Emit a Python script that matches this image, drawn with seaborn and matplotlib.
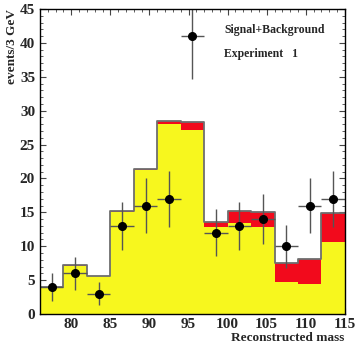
"""Signal+Background reconstructed mass histogram."""

import matplotlib
matplotlib.use("Agg")
import matplotlib.pyplot as plt
import numpy as np
import pandas as pd
import seaborn as sns

# bin edges (3 GeV bins) and per-bin contents
bin_edges = [76, 79, 82, 85, 88, 91, 94, 97, 100, 103, 106, 109, 112, 115]
background = [4.0, 7.1, 5.6, 15.1, 21.2, 28.0, 27.1, 12.8, 13.5, 12.8, 4.7, 4.4, 10.7]
signal = [0.0, 0.1, 0.0, 0.1, 0.2, 0.5, 1.2, 0.8, 1.7, 2.2, 2.8, 3.7, 4.2]
data_counts = [4, 6, 3, 13, 16, 17, 41, 12, 13, 14, 10, 16, 17]
data_err = [2.0, 2.4, 1.7, 3.6, 4.0, 4.1, 6.4, 3.5, 3.6, 3.7, 3.2, 4.0, 4.1]

sns.set_theme(style="ticks")
plt.rcParams["font.family"] = ["Liberation Serif", "DejaVu Serif"]
plt.rcParams["font.weight"] = "bold"

centers = [(a + b) / 2 for a, b in zip(bin_edges[:-1], bin_edges[1:])]
hist_df = pd.DataFrame({
    "mass": centers * 2,
    "events": background + signal,
    "component": ["background"] * len(centers) + ["signal"] * len(centers),
})
total_df = pd.DataFrame({
    "mass": centers,
    "events": [b + s for b, s in zip(background, signal)],
})

fig = plt.figure(figsize=(3.57, 3.44), dpi=100)
ax = fig.add_axes([0.112, 0.087, 0.854, 0.887])

sns.histplot(
    data=hist_df, x="mass", weights="events", hue="component",
    hue_order=["signal", "background"], multiple="stack", bins=bin_edges,
    element="step", fill=True, alpha=1, linewidth=0,
    palette={"background": "#f7f71e", "signal": "#f20a1c"},
    legend=False, ax=ax,
)
sns.histplot(
    data=total_df, x="mass", weights="events", bins=bin_edges,
    element="step", fill=False, color="#6e6e6e", linewidth=1.3,
    legend=False, ax=ax,
)
ax.errorbar(
    centers, data_counts, xerr=1.5, yerr=data_err, fmt="o",
    color="black", ms=5.5, ecolor="#555555", elinewidth=1.0, capsize=0,
)

ax.set_xlim(76, 115)
ax.set_ylim(0, 45)
ax.set_xticks(np.arange(80, 116, 5))
ax.set_xticks(np.arange(76, 116, 1), minor=True)
ax.set_yticks(np.arange(0, 46, 5))
ax.set_yticks(np.arange(0, 46, 1), minor=True)
ax.tick_params(which="both", direction="in", top=True, right=True,
               labelsize=11, color="#444444")
ax.tick_params(which="major", length=4, width=0.8)
ax.tick_params(axis="x", which="major", pad=2.5)
ax.tick_params(axis="y", which="major", pad=3.5)
ax.tick_params(which="minor", length=2, width=0.6)
for lab in ax.get_xticklabels() + ax.get_yticklabels():
    lab.set_fontweight("bold")
for sp in ax.spines.values():
    sp.set_linewidth(1.0)
    sp.set_color("black")

ax.set_xlabel("")
ax.set_ylabel("")
fig.text(0.966, 0.0, "Reconstructed mass", ha="right", va="bottom",
         fontsize=9.5, fontweight="bold")
fig.text(0.018, 0.974, "events/3 GeV", ha="left", va="top", rotation=90,
         fontsize=9.5, fontweight="bold")
ax.text(0.605, 0.93, "Signal+Background", transform=ax.transAxes,
        fontsize=8.5, fontweight="bold", va="center")
ax.text(0.605, 0.852, "Experiment   1", transform=ax.transAxes,
        fontsize=8.5, fontweight="bold", va="center")

fig.savefig("out.png", dpi=100)
plt.close(fig)
